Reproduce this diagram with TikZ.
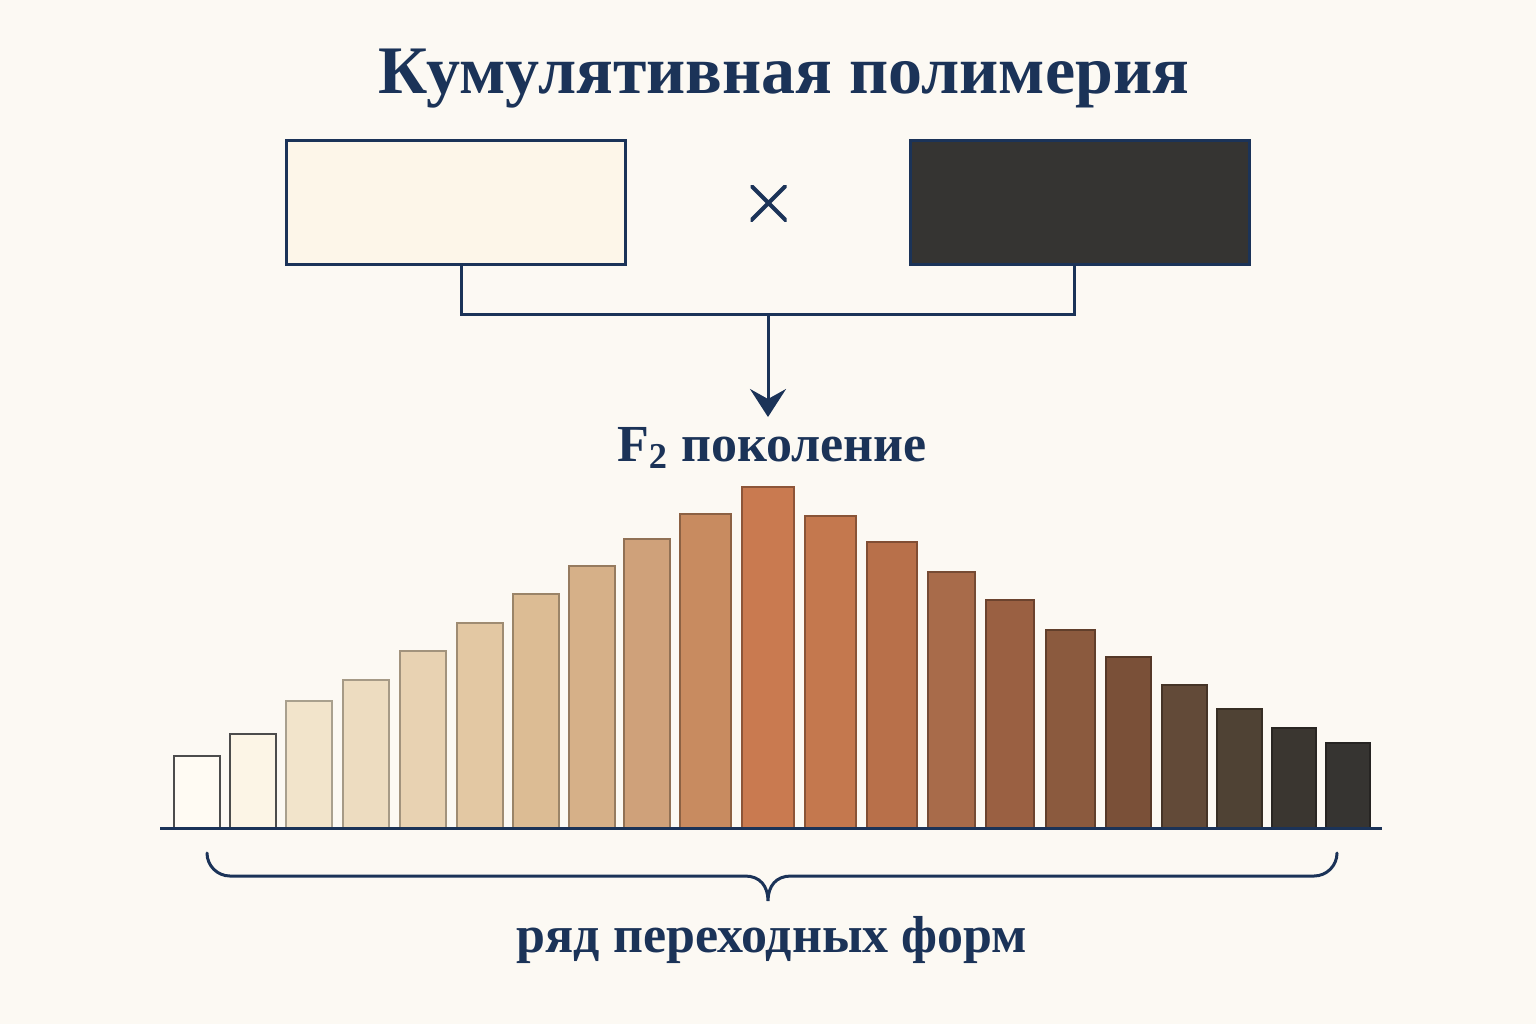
\documentclass[tikz,border=0pt]{standalone}
\usepackage{fontspec}
\setmainfont{Liberation Serif}
\usetikzlibrary{arrows.meta,calc}
\definecolor{bg}{HTML}{FCF9F3}
\definecolor{navy}{HTML}{1B3358}
\definecolor{lfill}{HTML}{FDF6E9}
\definecolor{dfill}{HTML}{353432}
\definecolor{c1}{HTML}{FFFBF3}
\definecolor{c2}{HTML}{FCF5E6}
\definecolor{c3}{HTML}{F2E4CB}
\definecolor{c4}{HTML}{EDDCC0}
\definecolor{c5}{HTML}{E8D2B2}
\definecolor{c6}{HTML}{E3C8A3}
\definecolor{c7}{HTML}{DCBC94}
\definecolor{c8}{HTML}{D6B088}
\definecolor{c9}{HTML}{CFA17A}
\definecolor{c10}{HTML}{C88B60}
\definecolor{c11}{HTML}{C97A50}
\definecolor{c12}{HTML}{C4784E}
\definecolor{c13}{HTML}{B8704A}
\definecolor{c14}{HTML}{A86B4A}
\definecolor{c15}{HTML}{9A6042}
\definecolor{c16}{HTML}{8B5A3E}
\definecolor{c17}{HTML}{7A5038}
\definecolor{c18}{HTML}{624A38}
\definecolor{c19}{HTML}{4F4234}
\definecolor{c20}{HTML}{3A3630}
\definecolor{c21}{HTML}{363431}
\begin{document}
\begin{tikzpicture}[x=0.5pt,y=-0.5pt,
  parent/.style={draw=navy,line width=1.5pt,minimum width=169.5pt,minimum height=62pt,inner sep=0pt},
  navyline/.style={draw=navy,line width=1.5pt},
  bartxt/.style={text=navy,font=\bfseries\fontsize{26}{30}\selectfont,inner sep=0pt}]
\fill[bg] (0,0) rectangle (1536,1024);
\useasboundingbox (0,0) rectangle (1536,1024);
\node[text=navy,font=\bfseries\fontsize{34}{40}\selectfont,inner sep=0pt] (title) at (784,79) {Кумулятивная полимерия};
\node[parent,fill=lfill] (lbox) at (455.5,202) {};
\node[parent,fill=dfill] (rbox) at (1080,202) {};
\node[minimum size=18pt,inner sep=0pt,
  path picture={\draw[navy,line width=2pt,line cap=round]
    (path picture bounding box.north west) -- (path picture bounding box.south east)
    (path picture bounding box.north east) -- (path picture bounding box.south west);}] (times) at (768.5,203) {};
\coordinate (j) at (768,314);
\draw[navyline] ($(lbox.south)+(5.5,0)$) |- (j) -| ($(rbox.south)+(-6,0)$);
\node[bartxt] (f2) at (772,448) {F\textsubscript{2} поколение};
\draw[navyline,-{Stealth[width=18pt,length=14pt,inset=5pt]}] (j) -- (768,417);
% bars
\def\base{828}
\foreach \i/\xa/\xb/\top in {1/174/220/756,2/230/276/734,3/286/332/701,4/343/389/680,5/400/446/651,6/457/503/623,7/513/559/594,8/569/615/566,9/624/670/539,10/680/731/514,11/742/794/487,12/805/856/516,13/867/917/542,14/928/975/572,15/986/1034/600,16/1046/1095/630,17/1106/1151/657,18/1162/1207/685,19/1217/1262/709,20/1272/1316/728,21/1326/1370/743}{
  \ifnum\i<3
    \filldraw[fill=c\i,draw=black!70,line width=1pt] (\xa,\base) rectangle (\xb,\top);
  \else
    \filldraw[fill=c\i,draw=c\i!70!black,line width=1pt] (\xa,\base) rectangle (\xb,\top);
  \fi
}
\coordinate (axl) at (160,828);
\coordinate (axr) at (1382,828);
\draw[navyline] (axl) -- (axr);
% brace
\coordinate (bl) at (207,853);
\coordinate (br) at (1337,853);
\coordinate (bm) at (768,901);
\draw[draw=navy,line width=1.5pt,line cap=round]
  (bl) arc[start angle=180,end angle=90,radius=23] -- (745,876)
  .. controls (760,876) and (768,886) .. (bm)
  .. controls (768,886) and (776,876) .. (791,876) -- (1314,876)
  arc[start angle=90,end angle=0,radius=23];
\node[bartxt] (row) at (772,940) {ряд переходных форм};
\end{tikzpicture}
\end{document}
